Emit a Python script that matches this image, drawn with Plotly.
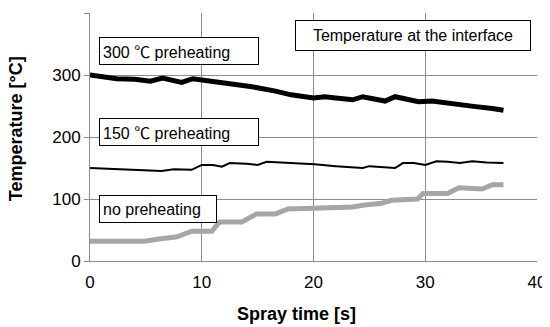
import plotly.graph_objects as go

# --- data ---
t_300 = [0, 1, 2.4, 4, 5.4, 6.5, 7.5, 8.2, 9.2, 10.5, 11.4, 12.8, 14.5, 16.6, 18, 20,
         21, 22, 23.5, 24.4, 25.3, 26.4, 27.3, 28.3, 29.4, 30.6, 31.7, 32.9, 34.5, 36, 37]
v_300 = [300, 298, 294, 293, 290, 295, 292, 288, 294, 291, 287, 285, 281, 274, 268, 263,
         265, 263, 260, 265, 262, 258, 265, 261, 257, 258, 255, 252, 249, 246, 243]

t_150 = [0, 3, 6.4, 7.5, 9.1, 10, 11, 11.8, 12.5, 14, 15, 15.8, 17, 18.8, 20.1, 22,
         24.4, 25, 26, 27.3, 28, 29, 30, 31, 32, 33.1, 34.2, 35.5, 37]
v_150 = [150, 148, 145, 148, 147, 155, 155, 152, 158, 157, 155, 160, 159, 158, 156, 153,
         150, 153, 152, 150, 158, 158, 155, 161, 160, 158, 161, 159, 158]

t_no = [0, 4.9, 6, 6.8, 7.8, 8.5, 9.1, 10.9, 11.6, 13.6, 14.3, 14.9, 16.6, 17.2, 17.7, 20,
        23.5, 24.4, 26.1, 26.6, 27, 29.3, 29.8, 32, 33, 35.1, 36, 37]
v_no = [32, 32, 35, 37, 39, 44, 48, 48, 63, 63, 70, 76, 76, 80, 84, 85,
        87, 90, 93, 96, 98, 100, 109, 109, 118, 116, 123, 123]

x_ticks = [0, 10, 20, 30, 40]
y_ticks = [0, 100, 200, 300, 400]

x_title = "Spray time [s]"
y_title = "Temperature [°C]"
DEG = '<span style="font-family:Noto Sans CJK JP">℃</span>'
labels = ["300 " + DEG + " preheating", "150 " + DEG + " preheating", "no preheating",
          "Temperature at the interface"]

FONT = "Arial, Liberation Sans, sans-serif"
GRID = "#8c8c8c"

fig = go.Figure()
fig.add_trace(go.Scatter(x=t_no, y=v_no, mode="lines",
                         line=dict(color="#a6a6a6", width=5), showlegend=False))
fig.add_trace(go.Scatter(x=t_150, y=v_150, mode="lines",
                         line=dict(color="black", width=2), showlegend=False))
fig.add_trace(go.Scatter(x=t_300, y=v_300, mode="lines",
                         line=dict(color="black", width=5), showlegend=False))

box = dict(bordercolor="black", borderwidth=1, borderpad=3, bgcolor="white",
           showarrow=False, xref="paper", yref="paper", font=dict(family=FONT, size=16, color="black"))

fig.add_annotation(text=labels[0], x=0.02, y=0.845, xanchor="left", yanchor="middle",
                   width=152, height=20, align="left", **box)
fig.add_annotation(text=labels[1], x=0.02, y=0.521, xanchor="left", yanchor="middle",
                   width=152, height=20, align="left", **box)
fig.add_annotation(text=labels[2], x=0.02, y=0.209, xanchor="left", yanchor="middle",
                   width=110, height=20, align="left", **box)
fig.add_annotation(text=labels[3], x=0.459, y=0.911, xanchor="left", yanchor="middle",
                   width=228, height=23, align="center", **box)

# axis titles
title_font = dict(family=FONT, size=18, color="black")
fig.add_annotation(text="<b>" + x_title + "</b>", x=0.461, y=-0.213, xref="paper", yref="paper",
                   showarrow=False, font=title_font, xanchor="center", yanchor="middle")
fig.add_annotation(text="<b>" + y_title + "</b>", x=-0.167, y=0.533, xref="paper", yref="paper",
                   showarrow=False, font=title_font, xanchor="center", yanchor="middle",
                   textangle=-90)

fig.update_xaxes(range=[0, 40], tickvals=x_ticks, showgrid=True, gridcolor=GRID, gridwidth=1,
                 showline=True, linecolor=GRID, linewidth=1, ticks="", zeroline=False,
                 tickfont=dict(family=FONT, size=17, color="black"), ticklabelstandoff=6)
fig.update_yaxes(range=[0, 400], tickvals=y_ticks, showgrid=True, gridcolor=GRID, gridwidth=1,
                 showline=True, linecolor=GRID, linewidth=1, ticks="outside", ticklen=5,
                 tickcolor=GRID, zeroline=False,
                 tickfont=dict(family=FONT, size=17, color="black"))

# page body has an 8px margin: shrink the figure accordingly
OFF = 8
fig.update_layout(width=550 - OFF, height=327 - OFF,
                  margin=dict(l=90 - OFF, r=13, t=13 - OFF, b=66, autoexpand=False),
                  plot_bgcolor="white", paper_bgcolor="white")

fig.write_html("out.html")
